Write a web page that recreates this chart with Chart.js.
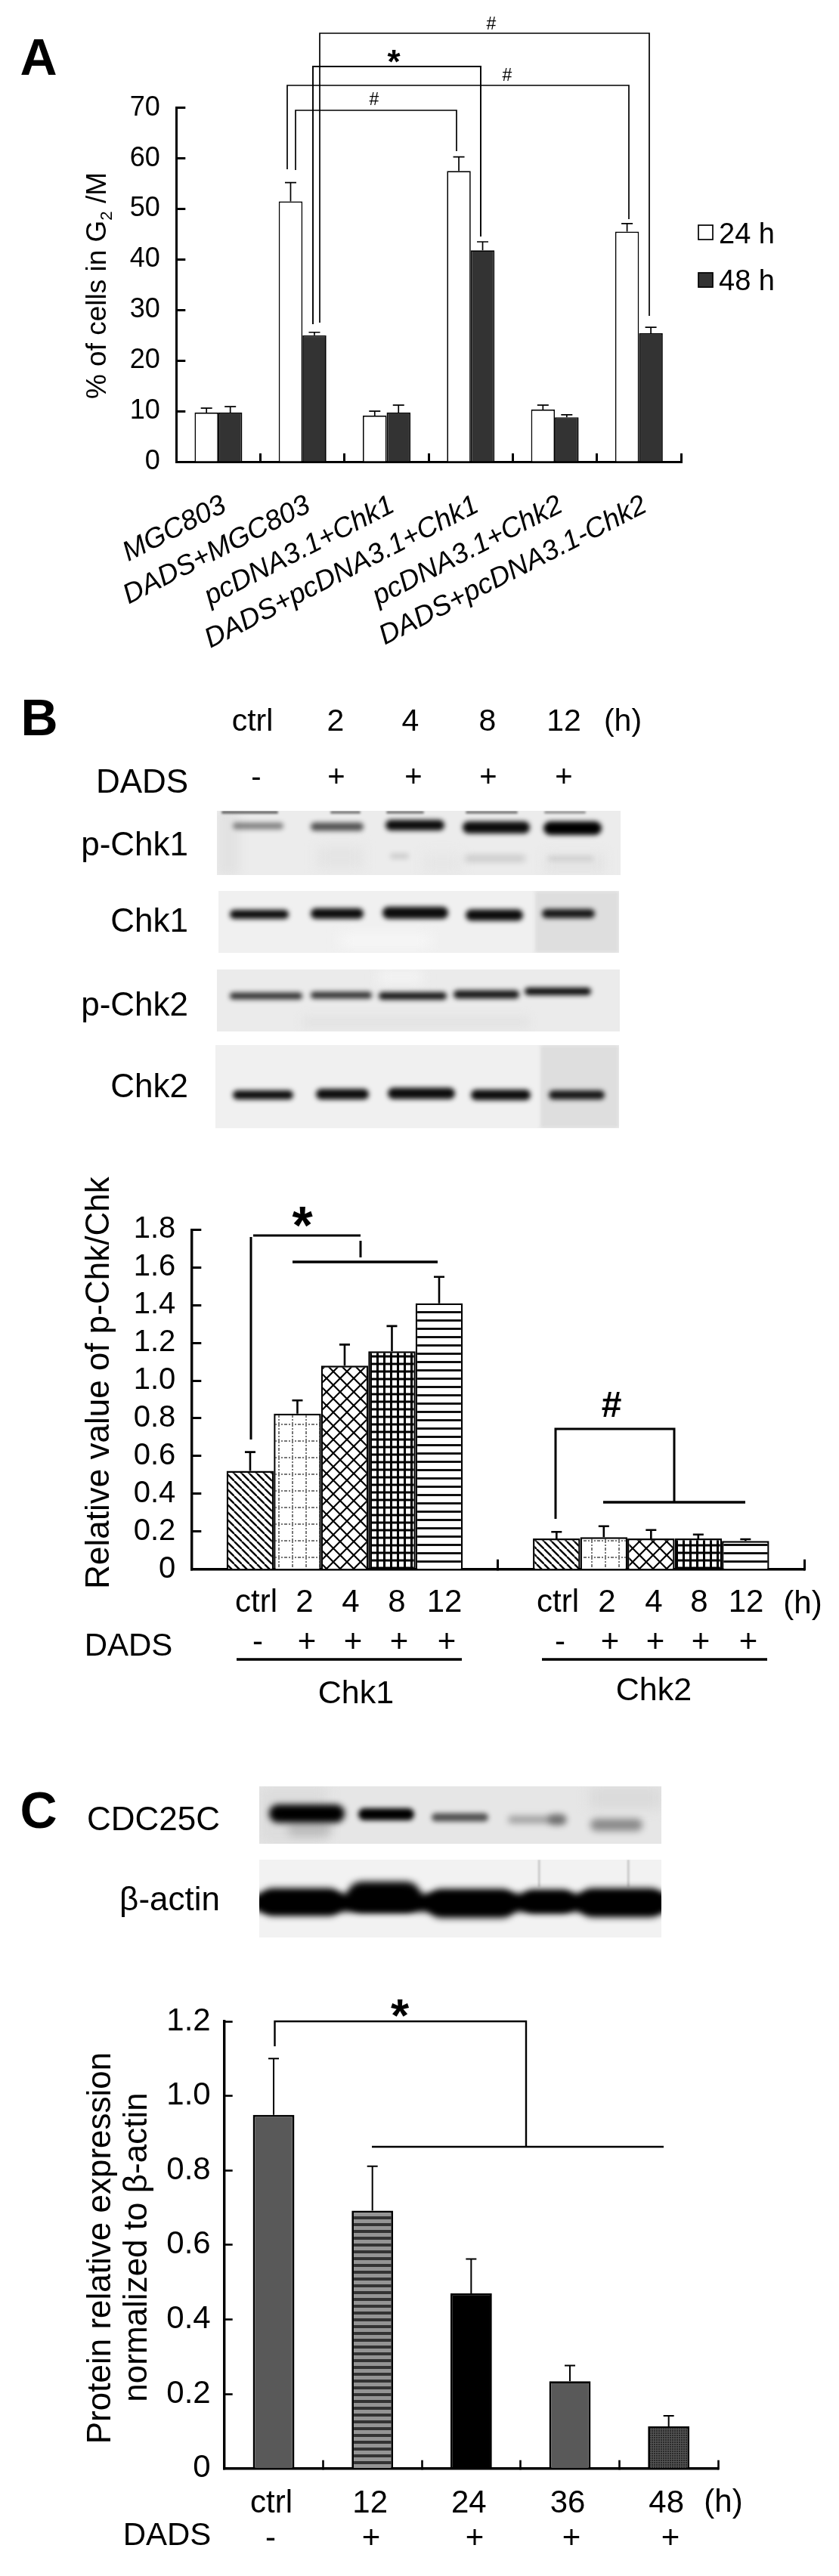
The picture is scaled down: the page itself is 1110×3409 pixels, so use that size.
<!DOCTYPE html>
<html><head><meta charset="utf-8">
<script src="https://cdn.jsdelivr.net/npm/chart.js@4"></script>
<style>
html,body{margin:0;padding:0;background:#fff;width:1110px;height:3409px;overflow:hidden;font-family:"Liberation Sans",Arial,sans-serif;color:#000}
canvas{position:absolute;left:0}
.t{position:absolute;white-space:nowrap;line-height:1;transform:translate(-50%,-50%)}
svg{position:absolute;left:0;top:0}
</style></head><body>
<canvas id="blots" width="1110" height="3409" style="top:0"></canvas>
<canvas id="chartA" style="top:0"></canvas>
<canvas id="chartB" style="top:1500px"></canvas>
<canvas id="chartC" style="top:2600px"></canvas>
<svg id="marks" width="1110" height="3409"></svg>
<script>
// ---- Panel A data ----
const catsA = ['MGC803','DADS+MGC803','pcDNA3.1+Chk1','DADS+pcDNA3.1+Chk1','pcDNA3.1+Chk2','DADS+pcDNA3.1-Chk2'];
const h24 = [9.7,51.5,9.1,57.5,10.3,45.5];
const h48 = [9.7,25.0,9.7,41.8,8.8,25.4];
const h24Top = [10.6,55.2,10.0,60.3,11.2,47.1];
const h48Top = [10.9,25.6,11.2,43.5,9.3,26.6];
const ticksA = [0,10,20,30,40,50,60,70];
// ---- Panel B data ----
const catsB = ['Chk1','Chk2'];
const seriesB = ['ctrl','2','4','8','12'];
const ctrlB = [0.521,0.163];
const t2B = [0.825,0.17];
const t4B = [1.079,0.163];
const t8B = [1.155,0.163];
const t12B = [1.41,0.15];
const ctrlBTop = [0.621,0.198];
const t2BTop = [0.895,0.228];
const t4BTop = [1.191,0.208];
const t8BTop = [1.289,0.184];
const t12BTop = [1.55,0.159];
const ticksB = ['0','0.2','0.4','0.6','0.8','1.0','1.2','1.4','1.6','1.8'];
// ---- Panel C data ----
const catsC = ['ctrl','12','24','36','48'];
const valsC = [0.949,0.692,0.47,0.234,0.113];
const topsC = [1.10,0.811,0.562,0.276,0.1415];
const ticksC = ['0','0.2','0.4','0.6','0.8','1.0','1.2'];

const FONT = '"Liberation Sans",Arial,sans-serif';

function makePattern(w,h,draw){
  const c=document.createElement('canvas');c.width=w;c.height=h;
  const x=c.getContext('2d');x.fillStyle='#fff';x.fillRect(0,0,w,h);x.strokeStyle='#000';draw(x,w,h);
  return document.createElement('canvas').getContext('2d').createPattern(c,'repeat');
}
const patDiag = makePattern(10,10,(x)=>{x.lineWidth=2.4;[-10,0,10].forEach(o=>{x.beginPath();x.moveTo(o,0);x.lineTo(o+10,10);x.stroke();});});
const patDots = makePattern(18,22,(x)=>{x.strokeStyle='#777';x.lineWidth=2;x.setLineDash([2,2]);x.beginPath();x.moveTo(9,0);x.lineTo(9,22);x.moveTo(0,11);x.lineTo(18,11);x.stroke();});
const patCross = makePattern(18,18,(x)=>{x.lineWidth=2.2;[-18,0,18].forEach(o=>{x.beginPath();x.moveTo(o,0);x.lineTo(o+18,18);x.moveTo(o+18,0);x.lineTo(o,18);x.stroke();});});
const patGrid = makePattern(9,10,(x)=>{x.lineWidth=3;x.beginPath();x.moveTo(4.5,0);x.lineTo(4.5,10);x.moveTo(0,5);x.lineTo(9,5);x.stroke();});
const patLines = makePattern(8,11,(x)=>{x.lineWidth=2.8;x.beginPath();x.moveTo(0,5.5);x.lineTo(8,5.5);x.stroke();});
const patStripe = makePattern(4,9,(x)=>{x.fillStyle='#949494';x.fillRect(0,0,4,9);x.fillStyle='#333';x.fillRect(0,0,4,4);});
const patFine = makePattern(3,3,(x)=>{x.fillStyle='#2a2a2a';x.fillRect(0,0,3,3);x.fillStyle='#555';x.fillRect(0,0,1,3);x.fillRect(0,0,3,1);});

const whiskers = {
  id:'whiskers',
  afterDatasetsDraw(chart,args,opts){
    const c=chart.ctx,y=chart.scales.y;
    chart.data.datasets.forEach((ds,i)=>{
      const m=chart.getDatasetMeta(i);
      m.data.forEach((bar,j)=>{
        const p=y.getPixelForValue(ds.errTop[j]);
        c.save();c.strokeStyle='#000';c.lineWidth=opts.lw;c.beginPath();
        c.moveTo(bar.x,bar.y);c.lineTo(bar.x,p);
        c.moveTo(bar.x-opts.cap/2,p);c.lineTo(bar.x+opts.cap/2,p);
        c.stroke();c.restore();
      });
    });
  }
};

function pinned(canvasId,geom,datasets,labels,xOpts,yOpts,wOpts,catPct){
  const cv=document.getElementById(canvasId);
  cv.width=1110;cv.height=geom.h;cv.style.width='1110px';cv.style.height=geom.h+'px';
  return new Chart(cv,{type:'bar',plugins:[whiskers],
    data:{labels,datasets},
    options:{responsive:false,animation:false,devicePixelRatio:1,
      layout:{autoPadding:false,padding:{top:geom.top,right:1110-geom.right,left:0,bottom:0}},
      plugins:{legend:{display:false},tooltip:{enabled:false},whiskers:wOpts},
      datasets:{bar:{categoryPercentage:catPct,barPercentage:1}},
      scales:{
        x:Object.assign({type:'category',afterFit(s){s.height=geom.h-geom.base;}},xOpts),
        y:Object.assign({afterFit(s){s.width=geom.left;}},yOpts)
      }}});
}

// Panel A chart
pinned('chartA',{h:900,top:142.7,base:611,left:233.3,right:901},[
  {label:'24 h',data:h24,errTop:h24Top,backgroundColor:'#fff',borderColor:'#000',borderWidth:1.7},
  {label:'48 h',data:h48,errTop:h48Top,backgroundColor:'#333',borderColor:'#000',borderWidth:1.7}
],catsA,{
  border:{color:'#000',width:3},
  grid:{drawOnChartArea:false,tickLength:-11,tickWidth:3,tickColor:'#000',offset:true},
  ticks:{color:'#000',autoSkip:false,minRotation:27,maxRotation:27,labelOffset:8,padding:47,font:{family:FONT,size:37,style:'italic'}}
},{
  min:0,max:70,
  afterBuildTicks(s){s.ticks=ticksA.map(v=>({value:v}));},
  border:{color:'#000',width:3},
  grid:{drawOnChartArea:false,tickLength:-12,tickWidth:3,tickColor:'#000'},
  ticks:{color:'#000',autoSkip:false,padding:33.6,font:{family:FONT,size:36}}
},{lw:1.7,cap:15},0.566);

// Panel B chart
const seriesBVals=[ctrlB,t2B,t4B,t8B,t12B], seriesBTops=[ctrlBTop,t2BTop,t4BTop,t8BTop,t12BTop], patsB=[patDiag,patDots,patCross,patGrid,patLines];
pinned('chartB',{h:700,top:127.3,base:576.7,left:253.3,right:1064},
  seriesB.map((n,i)=>({label:n,data:seriesBVals[i],errTop:seriesBTops[i],backgroundColor:patsB[i],borderColor:'#000',borderWidth:2.4})),
  catsB,{
  border:{color:'#000',width:3.4},
  grid:{drawOnChartArea:false,tickLength:-13,tickWidth:3,tickColor:'#000',offset:true},
  ticks:{display:false}
},{
  min:0,max:1.8,
  afterBuildTicks(s){s.ticks=ticksB.map(v=>({value:+v}));},
  border:{color:'#000',width:3.4},
  grid:{drawOnChartArea:false,tickLength:-13,tickWidth:3,tickColor:'#000'},
  ticks:{color:'#000',autoSkip:false,padding:34,font:{family:FONT,size:40},callback:(v,i)=>ticksB[i]}
},{lw:2.6,cap:14},0.771);

// Panel C chart
pinned('chartC',{h:809,top:75,base:666.7,left:296.7,right:950},[
  {label:'Protein',data:valsC,errTop:topsC,backgroundColor:['#595959',patStripe,'#000','#595959',patFine],borderColor:'#000',borderWidth:2.8}
],catsC,{
  border:{color:'#000',width:3.4},
  grid:{drawOnChartArea:false,tickLength:-11,tickWidth:2.6,tickColor:'#000',offset:true},
  ticks:{color:'#000',autoSkip:false,maxRotation:0,minRotation:0,labelOffset:-3,padding:33,font:{family:FONT,size:42}}
},{
  min:0,max:1.2,
  afterBuildTicks(s){s.ticks=ticksC.map(v=>({value:+v}));},
  border:{color:'#000',width:3.4},
  grid:{drawOnChartArea:false,tickLength:-11,tickWidth:2.6,tickColor:'#000'},
  ticks:{color:'#000',autoSkip:false,padding:29,font:{family:FONT,size:42},callback:(v,i)=>ticksC[i]}
},{lw:2,cap:14},0.42);

// ---- Text ----
function put(html,x,y,size,extra){
  const d=document.createElement('div');d.className='t';d.innerHTML=html;
  d.style.left=x+'px';d.style.top=y+'px';d.style.fontSize=size+'px';
  if(extra)Object.keys(extra).forEach(k=>{d.style[k]=extra[k];});
  document.body.appendChild(d);return d;
}
function rot(html,x,y,size){put(html,x,y,size,{transform:'translate(-50%,-50%) rotate(-90deg)'});}
function rightAt(text,x,y,size){put(text,x,y,size,{transform:'translate(-100%,-50%)'});}
['A','B','C'].forEach((l,i)=>put(l,[51,52,51][i],[75,949,2395][i],68,{fontWeight:'bold'}));

// Panel A annotations
rot('% of cells in G<sub style="font-size:.6em;line-height:0">2</sub> /M',127,378,37);
put('24 h',988,309,38);put('48 h',988,371,38);
const legendBoxes=[[924,298,19,19,'#fff'],[924,361,19,19,'#333']];
put('#',650,31,23);put('*',521,82,44,{fontWeight:'bold'});put('#',671,99,23);put('#',495,131,23);

// Panel B header & labels
const bHours=['ctrl','2','4','8','12','(h)'], bHourX=[334,444,543,645,746,824];
bHours.forEach((s,i)=>put(s,bHourX[i],953,41));
put('DADS',188,1034,44);
const bSigns=['-','+','+','+','+'], bSignX=[339,445,547,646,746];
bSigns.forEach((s,i)=>put(s,bSignX[i],1027,40));
[['p-Chk1',1117],['Chk1',1218],['p-Chk2',1329],['Chk2',1437]].forEach(a=>rightAt(a[0],249,a[1],44));
rot('Relative value of p-Chk/Chk',129,1830,44);
const b1X=[339,403,464,525,588],b2X=[738,803,865,925,987];
seriesB.forEach((s,i)=>{put(s,b1X[i],2119,42);put(s,b2X[i],2119,42);});
put('(h)',1062,2121,42);
put('DADS',170,2177,42);
const sb1=[341,406,467,528,591],sb2=[741,807,867,927,990];
bSigns.forEach((s,i)=>{put(s,sb1[i],2172,42);put(s,sb2[i],2172,42);});
put('Chk1',471,2239,43);put('Chk2',865,2235,43);
put('*',400,1622,70,{fontWeight:'bold'});put('#',809,1859,48,{fontWeight:'bold'});

// Panel C labels
rightAt('CDC25C',291,2407,44);rightAt('β-actin',291,2513,44);
rot('Protein relative expression',131,2975,44);
rot('normalized to β-actin',179,2974,44);
put('(h)',957,3310,42);
put('DADS',221,3354,42);
const cSigns=['-','+','+','+','+'],cSignX=[358,491,628,756,887];
cSigns.forEach((s,i)=>put(s,cSignX[i],3358,42));
put('*',529,2667,62,{fontWeight:'bold'});

// ---- Significance brackets ----
const NS='http://www.w3.org/2000/svg',svg=document.getElementById('marks');
function path(pts,w){
  const p=document.createElementNS(NS,'polyline');
  p.setAttribute('points',pts.map(a=>a.join(',')).join(' '));
  p.setAttribute('fill','none');p.setAttribute('stroke','#000');p.setAttribute('stroke-width',w);
  svg.appendChild(p);
}
legendBoxes.forEach(b=>{const r=document.createElementNS(NS,'rect');r.setAttribute('x',b[0]);r.setAttribute('y',b[1]);r.setAttribute('width',b[2]);r.setAttribute('height',b[3]);r.setAttribute('fill',b[4]);r.setAttribute('stroke','#000');r.setAttribute('stroke-width',1.7);svg.appendChild(r);});
path([[423,427],[423,44],[859,44],[859,418]],1.7);
path([[414,429],[414,88],[636,88],[636,313]],1.9);
path([[380,224],[380,113],[832,113],[832,290]],1.7);
path([[391,225],[391,146],[604,146],[604,200]],1.7);
path([[332,1905],[332,1637]],3);path([[335,1635],[477,1635]],3);path([[477,1642],[477,1664]],3);path([[387,1670],[579,1670]],3.4);
path([[735,2010],[735,1891],[892,1891],[892,1987]],3);path([[798,1988],[986,1988]],3.4);
path([[313,2196],[611,2196]],3.4);path([[717,2196],[1015,2196]],3.4);
path([[363.5,2708],[363.5,2675],[696,2675],[696,2841]],2.4);path([[492,2841],[878,2841]],2.4);

// ---- Western blot images ----
const g=document.getElementById('blots').getContext('2d');
function blot(box,bg,bands,patches){
  g.save();g.beginPath();g.rect(box[0],box[1],box[2]-box[0],box[3]-box[1]);g.clip();
  g.fillStyle=bg;g.fillRect(box[0],box[1],box[2]-box[0],box[3]-box[1]);
  (patches||[]).forEach(p=>{g.filter='blur('+p[5]+'px)';g.fillStyle=p[4];g.fillRect(p[0],p[1],p[2],p[3]);});
  bands.forEach(b=>{
    g.filter='blur('+(b[5]||3)+'px)';g.fillStyle='rgba(0,0,0,'+b[4]+')';
    g.beginPath();g.roundRect(b[0],b[2]-b[3]/2,b[1]-b[0],b[3],b[3]/2);g.fill();
  });
  g.restore();g.filter='none';
}
blot([287,1073,821,1158],'#ececec',[
 [308,375,1093,9,.45],[411,481,1094,11,.65],[510,588,1092,14,.95],[612,701,1095,16,.95],[719,796,1096,18,1],
 [293,368,1075,3,.7,1.5],[437,477,1075,3,.6,1.5],[511,561,1075,3,.6,1.5],[616,685,1075,3,.6,1.5],[720,775,1075,3,.45,1.5],
 [615,695,1136,8,.16,4],[516,541,1133,8,.12,3],[725,785,1136,6,.1,3]],
 [[287,1073,30,85,'#e2e2e2',6],[420,1120,60,30,'#e4e4e4',8],[560,1130,50,25,'#e6e6e6',8],[720,1130,80,25,'#e3e3e3',8]]);
blot([289,1179,819,1261],'#f0f0f0',[[304,382,1210,12,.95],[411,481,1209,14,.95],[506,593,1208,16,.95],[616,692,1211,15,.95],[717,787,1209,12,.9]],
 [[708,1179,111,82,'#dedede',2],[450,1235,120,20,'#f6f6f6',8]]);
blot([287,1283,820,1365],'#ebebeb',[[304,400,1318,9,.8],[411,492,1317,9,.8],[501,591,1318,10,.9],[600,687,1316,11,.9],[694,782,1312,10,.95]],
 [[500,1283,60,20,'#f3f3f3',8],[400,1345,300,15,'#e3e3e3',6]]);
blot([285,1383,819,1493],'#f0f0f0',[[308,388,1449,12,.95],[418,488,1448,14,.95],[513,602,1447,15,.95],[623,702,1449,14,.95],[726,800,1449,12,.9]],
 [[715,1383,104,110,'#dedede',2]]);
blot([343,2364,875,2440],'#e6e6e6',[[356,456,2400,24,1,4],[474,548,2401,16,1],[571,646,2405,11,.65],[672,749,2408,10,.3,4],[725,749,2408,15,.35,4],[781,850,2415,16,.4,5],[380,440,2420,20,.15,6]],
 [[343,2364,90,76,'#dcdcdc',8],[780,2364,95,30,'#dadada',8]]);
blot([343,2461,875,2564],'#f2f2f2',[[335,885,2518,24,1,4],[343,453,2517,36,1,5],[459,557,2510,40,1,5],[565,683,2519,38,1,5],[690,760,2516,30,1,5],[765,880,2518,38,1,5]],
 [[712,2461,2.5,36,'#c4c4c4',1],[830,2461,2.5,36,'#c4c4c4',1]]);
</script>
</body></html>
